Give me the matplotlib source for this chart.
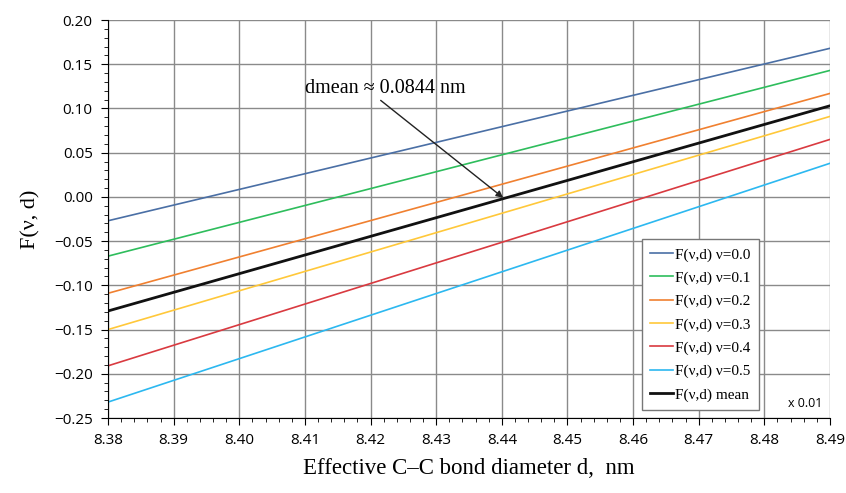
import numpy as np
import matplotlib.pyplot as plt
from matplotlib.ticker import MultipleLocator

# Lines are straight, so the end points at d = 8.38 and d = 8.49 define them
d_ends = [8.38, 8.49]
labels = ['F(ν,d) ν=0.0', 'F(ν,d) ν=0.1', 'F(ν,d) ν=0.2', 'F(ν,d) ν=0.3',
          'F(ν,d) ν=0.4', 'F(ν,d) ν=0.5', 'F(ν,d) mean']
f_start = [-0.027, -0.067, -0.109, -0.150, -0.191, -0.232, -0.129]
f_end = [0.168, 0.143, 0.117, 0.091, 0.065, 0.038, 0.103]
colors = ['#4a6fa5', '#2ebd5c', '#f08030', '#ffc83a', '#d93a40', '#2cb8f0', '#111111']
widths = [1.2, 1.2, 1.2, 1.2, 1.2, 1.2, 2.0]

xticks = [8.38, 8.39, 8.40, 8.41, 8.42, 8.43, 8.44, 8.45, 8.46, 8.47, 8.48, 8.49]
yticks = [-0.25, -0.20, -0.15, -0.10, -0.05, 0.00, 0.05, 0.10, 0.15, 0.20]

serif = ['Liberation Serif', 'DejaVu Serif']

fig = plt.figure(figsize=(8.46, 4.93), dpi=100)
ax = fig.add_axes([108 / 846, 1 - 418 / 493, 722 / 846, 398 / 493])

for lab, y0, y1, c, w in zip(labels, f_start, f_end, colors, widths):
    ax.plot(d_ends, [y0, y1], color=c, lw=w, label=lab)

ax.set_xlim(8.38, 8.49)
ax.set_ylim(-0.25, 0.20)
ax.set_xticks(xticks)
ax.set_yticks(yticks)
ax.set_xticklabels(['%.2f' % v for v in xticks])
ax.set_yticklabels(['%.2f' % v if v >= 0 else '\u2212%.2f' % -v for v in yticks])
ax.xaxis.set_minor_locator(MultipleLocator(0.002))
ax.yaxis.set_minor_locator(MultipleLocator(0.01))
ax.grid(True, which='major', color='#8a8a8a', lw=1.0)
ax.set_axisbelow(True)
for s in ['top', 'right']:
    ax.spines[s].set_visible(False)
for s in ['left', 'bottom']:
    ax.spines[s].set_color('black')
ax.tick_params(which='major', direction='out', length=5, pad=6)
ax.tick_params(which='minor', direction='out', length=3)
for t in ax.get_xticklabels() + ax.get_yticklabels():
    t.set_fontfamily('Open Sans')
    t.set_fontsize(11)

ax.set_xlabel('Effective C\u2013C bond diameter d,  nm', family=serif, fontsize=16.5, labelpad=7)
ax.set_ylabel('F(ν, d)', family=serif, fontsize=16, labelpad=10)

ax.annotate('dmean \u2248 0.0844 nm', xy=(8.4402, -0.001), xytext=(8.4100, 0.123),
            fontsize=14.5, family=serif, va='center', ha='left',
            arrowprops=dict(arrowstyle='-|>', color='#222222', lw=1.0,
                            shrinkA=0, shrinkB=0, mutation_scale=10,
                            relpos=(0.45, 0.0)))

leg = ax.legend(loc='lower right', bbox_to_anchor=(0.9017, 0.02), borderaxespad=0,
                frameon=True, fancybox=False, edgecolor='#777777', framealpha=1,
                prop={'family': serif, 'size': 11},
                handlelength=1.5, handletextpad=0.15, labelspacing=0.62, borderpad=0.55)
leg.get_frame().set_linewidth(1.0)

ax.text(0.99, 0.02, 'x 0.01', transform=ax.transAxes, ha='right', va='bottom',
        fontsize=9, family='Open Sans')

fig.savefig('out.png', dpi=100)
